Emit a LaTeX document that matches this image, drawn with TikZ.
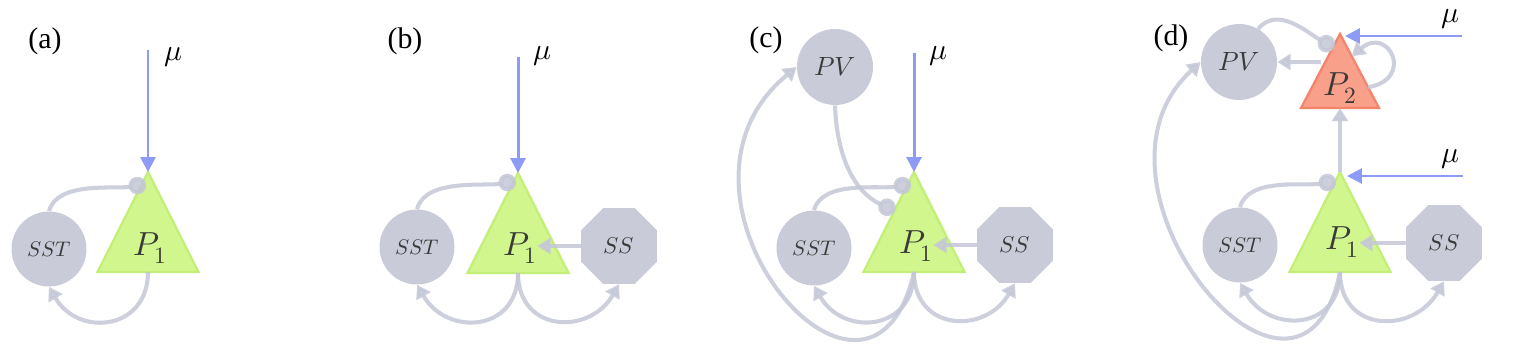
\documentclass[tikz,border=0pt]{standalone}
\usepackage{fontspec}
\usepackage{unicode-math}
\setmainfont{Liberation Serif}
\setmathfont{Latin Modern Math}
\usetikzlibrary{arrows.meta,shapes.geometric,calc}

\definecolor{cellgray}{HTML}{C9CBD9}
\definecolor{linkgray}{HTML}{C4C7D6}
\definecolor{driveblue}{HTML}{8E9BF4}
\definecolor{pyrgreen}{HTML}{D2F68E}
\definecolor{pyrline}{HTML}{C3EF78}
\definecolor{pyrorange}{HTML}{F9A08A}
\definecolor{pyrred}{HTML}{F4846C}
\definecolor{inkgray}{HTML}{3A3A3A}

\begin{document}
\begin{tikzpicture}[
  x=0.02cm, y=0.02cm,
  cell/.style={circle, fill=cellgray, minimum size=1.5cm, inner sep=0pt, text=inkgray, font=\fontsize{12}{12}\selectfont},
  pv/.style={minimum size=1.52cm, font=\fontsize{15}{15}\selectfont},
  ssbox/.style={regular polygon, regular polygon sides=8, fill=cellgray, minimum size=1.64cm, inner sep=0pt, text=inkgray, font=\fontsize{13}{13}\selectfont},
  pyr/.style={isosceles triangle, isosceles triangle stretches, shape border rotate=90, minimum width=2.02cm, minimum height=2cm, inner sep=0pt, outer sep=0pt, fill=pyrgreen, draw=pyrline, line width=1.3pt},
  pyrtop/.style={pyr, minimum width=1.56cm, minimum height=1.48cm, fill=pyrorange, draw=pyrred},
  pyrlbl/.style={inner sep=0pt, text=inkgray, font=\fontsize{19}{19}\selectfont},
  tag/.style={font=\fontsize{17}{17}\selectfont},
  mulbl/.style={font=\fontsize{17}{17}\selectfont},
  exc/.style={-{Triangle[width=9pt,length=7.5pt]}, draw=linkgray, line width=2.3pt, draw opacity=0.85, fill opacity=0.85},
  inh/.style={-{Circle[length=10pt]}, draw=linkgray, line width=2.3pt, draw opacity=0.85, fill opacity=0.85},
  drive/.style={-{Triangle[width=8.5pt,length=8.5pt]}, draw=driveblue, line width=1.7pt}
]
\useasboundingbox (0,0) rectangle (1513,346);

% (a)
\node[tag] (taga) at (45,305) {(a)};
\node[pyr, anchor=apex] (p1a) at (148,174) {};
\node[pyrlbl] (p1lbla) at (150,98) {$P_1$};
\node[cell] (ssta) at (49,97) {$SST$};
\coordinate (mua) at (148,296);
\node[mulbl] (mulbla) at (174,289) {$\mu$};
\draw[drive] (mua) -- (p1a.apex);
\draw[inh] (ssta.north) to[out=75,in=190,looseness=0.8] ($(p1a.apex)+(-2,-12)$);
\draw[exc] (p1a.lower side) to[out=-90,in=-60,looseness=1.5] (ssta.south);

% (b)
\node[tag] (tagb) at (405,305) {(b)};
\node[pyr, anchor=apex] (p1b) at (518,173) {};
\node[pyrlbl] (p1lblb) at (520,98) {$P_1$};
\node[cell] (sstb) at (417,99) {$SST$};
\node[ssbox] (ssb) at (619,100) {$SS$};
\coordinate (mub) at (518,289);
\node[mulbl] (mulblb) at (542,290) {$\mu$};
\draw[drive] (mub) -- (p1b.apex);
\draw[inh] (sstb.north) to[out=75,in=190,looseness=0.8] ($(p1b.apex)+(-2,-8)$);
\draw[exc] (ssb.west) -- (ssb.west -| p1lblb.east);
\draw[exc] (p1b.lower side) to[out=-90,in=-60,looseness=1.5] (sstb.south);
\draw[exc] (p1b.lower side) to[out=-90,in=-120,looseness=1.5] (ssb.south);

% (c)
\node[tag] (tagc) at (766,306) {(c)};
\node[pyr, anchor=apex] (p1c) at (914,174) {};
\node[pyrlbl] (p1lblc) at (916,100) {$P_1$};
\node[cell] (sstc) at (814,98) {$SST$};
\node[ssbox] (ssc) at (1015,101) {$SS$};
\node[cell, pv] (pvc) at (835,279) {$PV$};
\coordinate (muc) at (914,293);
\node[mulbl] (mulblc) at (938,290) {$\mu$};
\draw[drive] (muc) -- (p1c.apex);
\draw[inh] (pvc.south) to[out=-88,in=155] ($(p1c.apex)+(-19,-39)$);
\draw[inh] (sstc.north) to[out=75,in=190,looseness=0.8] ($(p1c.apex)+(-3,-12)$);
\draw[exc] (ssc.west) -- (ssc.west -| p1lblc.east);
\draw[exc] (p1c.lower side) to[out=-90,in=-60,looseness=1.5] (sstc.south);
\draw[exc] (p1c.lower side) to[out=-90,in=-120,looseness=1.5] (ssc.south);
\draw[exc] (p1c.lower side) .. controls (870,-120) and (640,150) .. (pvc.west);

% (d)
\node[tag] (tagd) at (1171,308) {(d)};
\node[pyr, anchor=apex] (p1d) at (1340,174) {};
\node[pyrlbl] (p1lbld) at (1342,104) {$P_1$};
\node[pyrtop, anchor=apex] (p2d) at (1340,312) {};
\node[pyrlbl] (p2lbld) at (1340,258) {$P_2$};
\node[cell] (sstd) at (1240,101) {$SST$};
\node[ssbox] (ssd) at (1444,103) {$SS$};
\node[cell, pv] (pvd) at (1239,284) {$PV$};
\coordinate (mutopd) at (1462,310);
\coordinate (mulowd) at (1463,170);
\node[mulbl] (mutoplbld) at (1450,327) {$\mu$};
\node[mulbl] (mulowlbld) at (1450,187) {$\mu$};
\draw[drive] (mutopd) -- ($(p2d.apex)+(5,-2)$);
\draw[drive] (mulowd) -- ($(p1d.apex)+(7,-4)$);
\draw[exc] (p1d.apex) -- (p2d.lower side);
\draw[exc] (p2d.left side |- pvd.east) -- (pvd.east);
\draw[exc] ($(p2d.apex)!0.72!(p2d.right corner)$) to[out=10,in=40,looseness=3.5] ($(p2d.apex)!0.3!(p2d.right corner)$);
\draw[inh] (pvd.60) to[out=50,in=150] ($(p2d.apex)+(-6,-14)$);
\draw[inh] (sstd.north) to[out=75,in=190,looseness=0.8] ($(p1d.apex)+(-4,-9)$);
\draw[exc] (ssd.west) -- (ssd.west -| p1lbld.east);
\draw[exc] (p1d.lower side) to[out=-90,in=-60,looseness=1.5] (sstd.south);
\draw[exc] (p1d.lower side) to[out=-90,in=-120,looseness=1.5] (ssd.south);
\draw[exc] (p1d.lower side) .. controls (1300,-120) and (1065,160) .. (pvd.west);
\end{tikzpicture}
\end{document}
